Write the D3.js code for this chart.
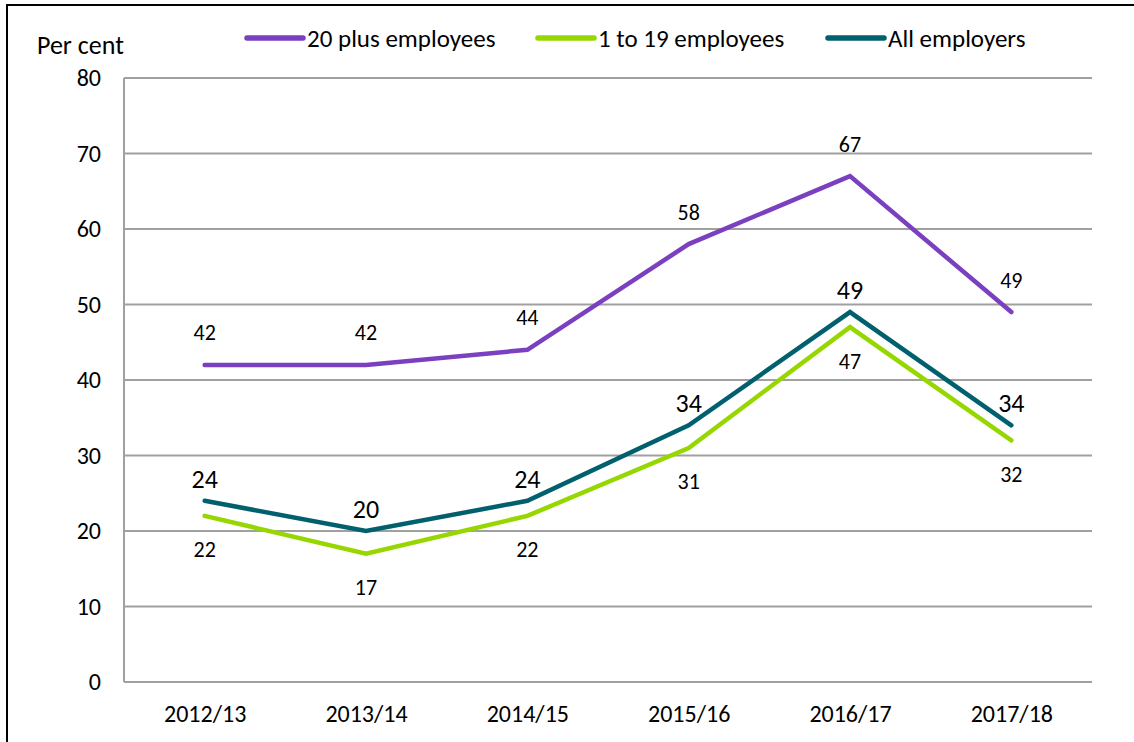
<!DOCTYPE html>
<html>
<head>
<meta charset="utf-8">
<script src="https://cdn.jsdelivr.net/npm/d3@7"></script>
<style>
  html, body { margin: 0; padding: 0; background: #fff; }
  svg { display: block; font-family: Carlito, Lato, "Open Sans", sans-serif; }
</style>
</head>
<body>
<svg id="chart"></svg>
<script>
const years = ['2012/13', '2013/14', '2014/15', '2015/16', '2016/17', '2017/18'];
const plus20 = [42, 42, 44, 58, 67, 49];
const small = [22, 17, 22, 31, 47, 32];
const all = [24, 20, 24, 34, 49, 34];
const yTicks = [0, 10, 20, 30, 40, 50, 60, 70, 80];

const series = [
  {name: '20 plus employees', values: plus20, color: '#7a40c0', labelDy: -32, labelSize: 22},
  {name: '1 to 19 employees', values: small, color: '#97d700', labelDy: 34, labelSize: 22},
  {name: 'All employers', values: all, color: '#00606d', labelDy: -22, labelSize: 26}
];

const width = 1134, height = 742;
const margin = {left: 124, right: 42, top: 78, bottom: 60};
const font = 'Carlito, Lato, "Open Sans", sans-serif';

const svg = d3.select('#chart')
  .attr('width', width)
  .attr('height', height);

// outer frame
svg.append('rect')
  .attr('x', 7).attr('y', 5)
  .attr('width', width + 20).attr('height', height + 20)
  .attr('fill', 'none')
  .attr('stroke', '#000')
  .attr('stroke-width', 2);

const x = d3.scalePoint()
  .domain(years)
  .range([margin.left, width - margin.right])
  .padding(0.5);

const y = d3.scaleLinear()
  .domain([0, 80])
  .range([height - margin.bottom, margin.top]);

// gridlines
svg.append('g')
  .selectAll('line')
  .data(yTicks)
  .join('line')
  .attr('x1', margin.left)
  .attr('x2', width - margin.right)
  .attr('y1', d => y(d))
  .attr('y2', d => y(d))
  .attr('stroke', '#a0a0a0')
  .attr('stroke-width', 2);

// y axis line
svg.append('line')
  .attr('x1', margin.left).attr('x2', margin.left)
  .attr('y1', y(80)).attr('y2', y(0))
  .attr('stroke', '#a0a0a0')
  .attr('stroke-width', 2);

// y tick labels
const yAxis = svg.append('g')
  .attr('transform', `translate(${margin.left - 23}, 0)`)
  .call(d3.axisLeft(y).tickValues(yTicks).tickSize(0).tickPadding(0));
yAxis.select('.domain').remove();
yAxis.selectAll('text')
  .attr('font-size', 24)
  .attr('font-family', font)
  .attr('fill', '#000');

// x tick labels
const xAxis = svg.append('g')
  .attr('transform', `translate(0, ${y(0)})`)
  .call(d3.axisBottom(x).tickSize(0).tickPadding(23));
xAxis.select('.domain').remove();
xAxis.selectAll('text')
  .attr('font-size', 24)
  .attr('font-family', font)
  .attr('fill', '#000');

svg.append('text')
  .attr('x', 37).attr('y', 54)
  .attr('font-size', 26)
  .text('Per cent');

const line = d3.line()
  .x((d, i) => x(years[i]))
  .y(d => y(d));

series.forEach(s => {
  svg.append('path')
    .datum(s.values)
    .attr('d', line)
    .attr('fill', 'none')
    .attr('stroke', s.color)
    .attr('stroke-width', 4.5)
    .attr('stroke-linejoin', 'miter')
    .attr('stroke-linecap', 'round');
});

series.forEach(s => {
  svg.append('g')
    .selectAll('text')
    .data(s.values)
    .join('text')
    .attr('x', (d, i) => x(years[i]))
    .attr('y', d => y(d) + s.labelDy)
    .attr('text-anchor', 'middle')
    .attr('dominant-baseline', 'central')
    .attr('font-size', s.labelSize)
    .attr('fill', '#000')
    .text(d => d);
});

// legend
const legendX = [247, 538, 828];
const legend = svg.append('g');
series.forEach((s, i) => {
  const g = legend.append('g').attr('transform', `translate(${legendX[i]}, 38)`);
  g.append('line')
    .attr('x1', 0).attr('x2', 56)
    .attr('stroke', s.color)
    .attr('stroke-width', 5.5)
    .attr('stroke-linecap', 'round');
  g.append('text')
    .attr('x', 60)
    .attr('dominant-baseline', 'central')
    .attr('font-size', 25)
    .text(s.name);
});
</script>
</body>
</html>
